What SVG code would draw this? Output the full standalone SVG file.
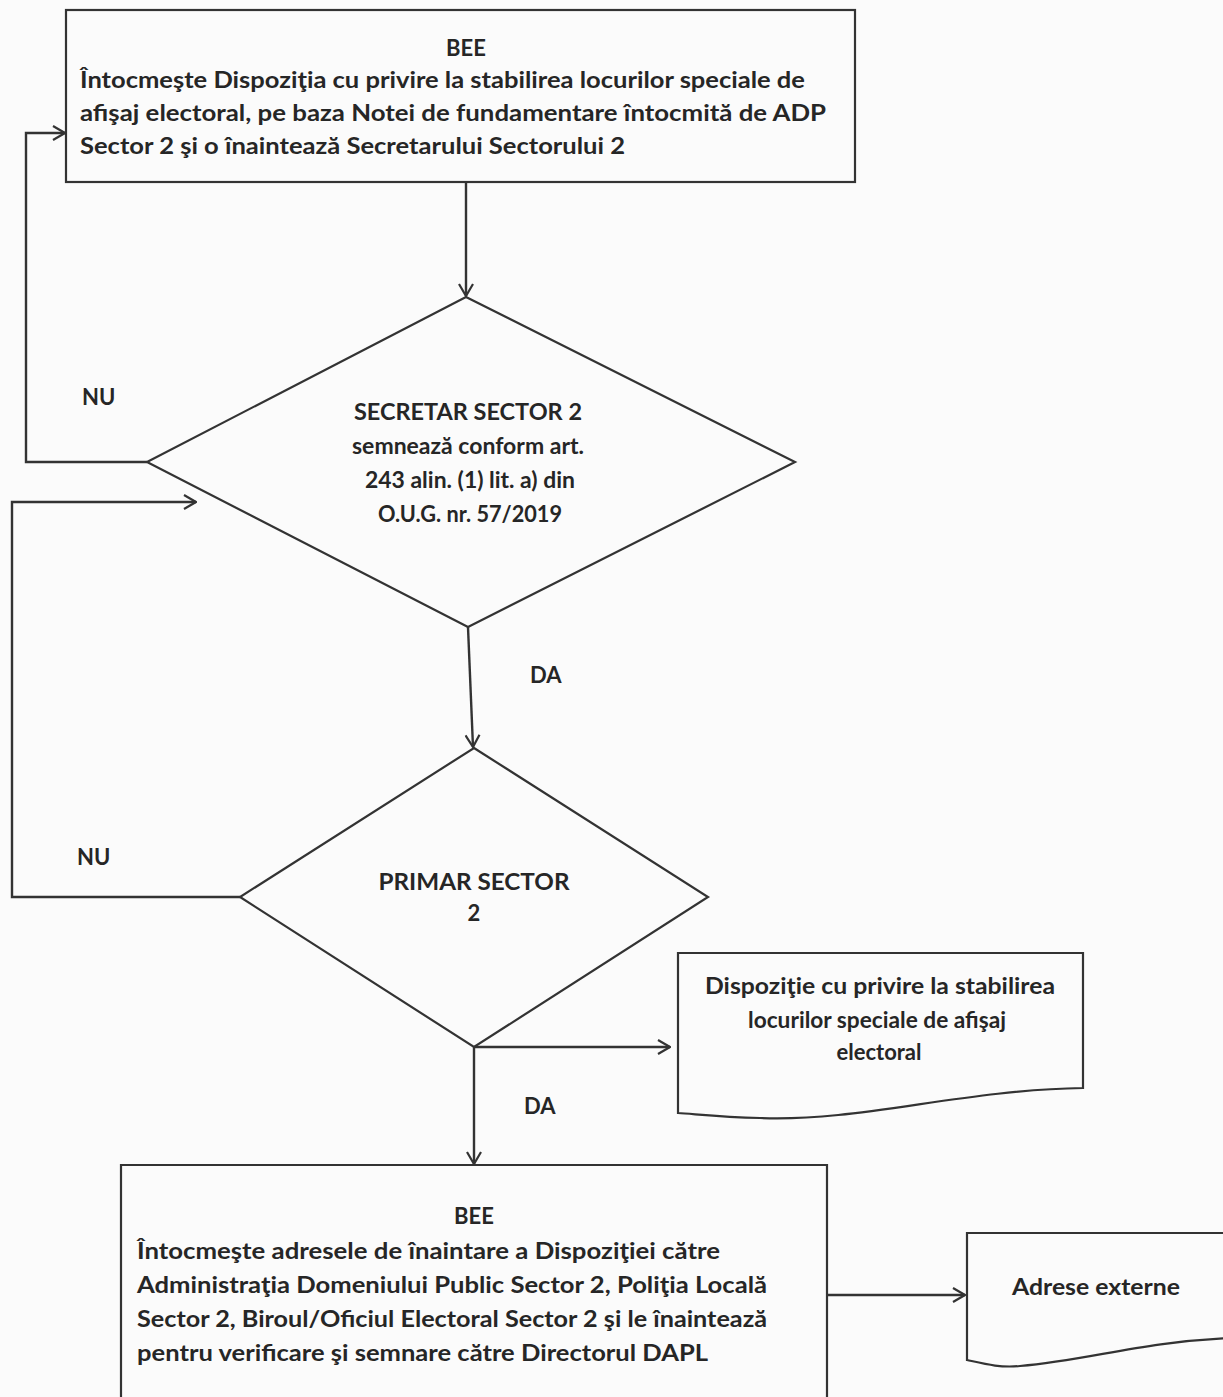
<svg xmlns="http://www.w3.org/2000/svg" width="1223" height="1397" viewBox="0 0 1223 1397" xml:space="preserve">
  <defs>
    <marker id="arrow" viewBox="0 0 14 16" refX="13" refY="8" markerWidth="14" markerHeight="16" markerUnits="userSpaceOnUse" orient="auto">
      <path d="M1,1 L13,8 L1,15" fill="none" stroke="#333" stroke-width="2.2"/>
    </marker>
    <style>
      .shape { fill: none; stroke: #333; stroke-width: 2.2; }
      .link { fill: none; stroke: #333; stroke-width: 2.4; }
      text { font-family: "Lato", "Open Sans", "Liberation Sans", sans-serif; font-weight: bold; font-size: 22px; fill: #262626; }
      .c { text-anchor: middle; }
    </style>
  </defs>

  <rect width="1223" height="1397" fill="#fbfbfb"/>

  <!-- process: BEE drafts the disposition -->
  <g id="bee-dispozitie">
    <rect class="shape" x="66" y="10" width="789" height="172"/>
    <text class="c" x="466" y="56">BEE</text>
    <text x="80" y="88" textLength="725" lengthAdjust="spacingAndGlyphs">Întocmeşte Dispoziţia cu privire la stabilirea locurilor speciale de</text>
    <text x="80" y="121" textLength="746" lengthAdjust="spacingAndGlyphs">afişaj electoral, pe baza Notei de fundamentare întocmită de  ADP</text>
    <text x="80" y="154" textLength="545" lengthAdjust="spacingAndGlyphs">Sector 2 şi o înaintează Secretarului Sectorului 2</text>
  </g>

  <!-- decision: secretary signs -->
  <g id="secretar-sector">
    <polygon class="shape" points="466,297 795,462 468,627 147,462"/>
    <text class="c" x="468" y="420" textLength="228" lengthAdjust="spacingAndGlyphs">SECRETAR SECTOR 2</text>
    <text class="c" x="468" y="454" textLength="232" lengthAdjust="spacingAndGlyphs">semnează conform art.</text>
    <text class="c" x="470" y="488" textLength="210" lengthAdjust="spacingAndGlyphs">243 alin. (1) lit. a)  din</text>
    <text class="c" x="470" y="522" textLength="184" lengthAdjust="spacingAndGlyphs">O.U.G. nr. 57/2019</text>
  </g>

  <!-- decision: mayor -->
  <g id="primar-sector">
    <polygon class="shape" points="474,748 708,897 474,1047 240,897"/>
    <text class="c" x="474" y="890" textLength="191" lengthAdjust="spacingAndGlyphs">PRIMAR  SECTOR</text>
    <text class="c" x="474" y="921">2</text>
  </g>

  <!-- document: signed disposition -->
  <g id="doc-dispozitie">
    <path class="shape" d="M678,953 H1083 V1088 C960,1090 860,1122 760,1118 C720,1117 695,1114 678,1113 Z"/>
    <text class="c" x="880" y="994" textLength="350" lengthAdjust="spacingAndGlyphs">Dispoziţie cu privire la stabilirea</text>
    <text class="c" x="877" y="1028" textLength="258" lengthAdjust="spacingAndGlyphs">locurilor  speciale de afişaj</text>
    <text class="c" x="879" y="1060">electoral</text>
  </g>

  <!-- process: BEE drafts the forwarding letters -->
  <g id="bee-adrese">
    <path class="shape" d="M121,1400 V1165 H827 V1400"/>
    <text class="c" x="474" y="1224">BEE</text>
    <text x="137" y="1259" textLength="583" lengthAdjust="spacingAndGlyphs">Întocmeşte adresele de înaintare a Dispoziţiei către</text>
    <text x="137" y="1293" textLength="630" lengthAdjust="spacingAndGlyphs">Administraţia Domeniului Public Sector 2, Poliţia Locală</text>
    <text x="137" y="1327" textLength="630" lengthAdjust="spacingAndGlyphs">Sector 2, Biroul/Oficiul Electoral Sector 2 şi le înaintează</text>
    <text x="137" y="1361" textLength="571" lengthAdjust="spacingAndGlyphs">pentru verificare şi semnare către Directorul DAPL</text>
  </g>

  <!-- document: external letters -->
  <g id="doc-adrese">
    <path class="shape" d="M1230,1233 H967 V1360 C985,1364 1000,1368 1020,1366 C1090,1360 1140,1342 1230,1338"/>
    <text class="c" x="1096" y="1295" textLength="168" lengthAdjust="spacingAndGlyphs">Adrese externe</text>
  </g>

  <!-- connectors -->
  <g id="connectors">
    <line class="link" x1="466" y1="182" x2="466" y2="296" marker-end="url(#arrow)"/>
    <polyline class="link" points="147,462 26,462 26,133 65,133" marker-end="url(#arrow)"/>
    <line class="link" x1="468" y1="627" x2="473" y2="747" marker-end="url(#arrow)"/>
    <polyline class="link" points="240,897 12,897 12,502 196,502" marker-end="url(#arrow)"/>
    <line class="link" x1="474" y1="1047" x2="670" y2="1047" marker-end="url(#arrow)"/>
    <line class="link" x1="474" y1="1047" x2="474" y2="1164" marker-end="url(#arrow)"/>
    <line class="link" x1="827" y1="1295" x2="965" y2="1295" marker-end="url(#arrow)"/>
    <text x="82" y="405">NU</text>
    <text x="77" y="865">NU</text>
    <text x="530" y="683">DA</text>
    <text x="524" y="1114">DA</text>
  </g>
</svg>
